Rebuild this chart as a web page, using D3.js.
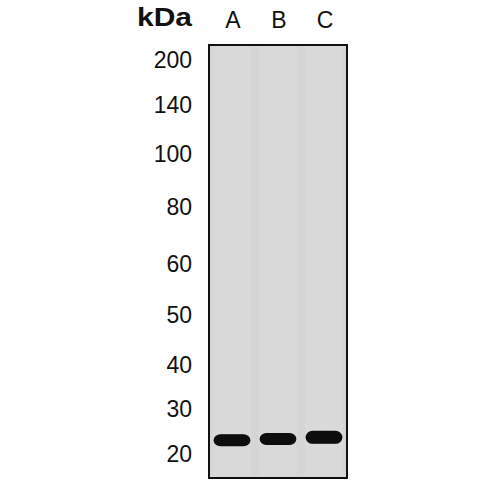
<!DOCTYPE html>
<html>
<head>
<meta charset="utf-8">
<script src="https://cdn.jsdelivr.net/npm/d3@7"></script>
<style>
  body { margin: 0; background: #fff; }
  svg { display: block; font-family: "Liberation Sans", Arial, sans-serif; }
</style>
</head>
<body>
<svg id="vis" width="500" height="500"></svg>
<script>
// marker ladder (kDa) and relative migration down the membrane (0 = top, 1 = bottom)
const markerLabels = ['200', '140', '100', '80', '60', '50', '40', '30', '20']
const markerMobility = [0.035, 0.137, 0.250, 0.374, 0.504, 0.624, 0.739, 0.840, 0.944]

// lanes and the single band found in each
const lanes = ['A', 'B', 'C']
const bandMobility = [0.913, 0.910, 0.906]
const bandThickness = [1.0, 1.0, 1.08]

const margin = {left: 209, top: 45, right: 153, bottom: 22}
const width = 500 - margin.left - margin.right
const height = 500 - margin.top - margin.bottom

const svg = d3.select('#vis')

const yScale = d3.scaleLinear().domain([0, 1]).range([margin.top, margin.top + height])
const xLane = d3.scalePoint().domain(lanes).range([margin.left, margin.left + width]).padding(0.5)
const bandW = xLane.step() * 0.8
const bandH = 12

// soft edge on the bands
const defs = svg.append('defs')
defs.append('filter').attr('id', 'blur')
    .attr('x', '-20%').attr('y', '-60%').attr('width', '140%').attr('height', '220%')
    .append('feGaussianBlur').attr('stdDeviation', 0.7)

// membrane background
svg.append('rect')
    .attr('class', 'membrane')
    .attr('x', margin.left).attr('y', margin.top)
    .attr('width', width).attr('height', height)
    .attr('fill', '#d5d5d5')

// faint lane streaks
svg.selectAll('.streak')
    .data(lanes)
    .enter().append('rect')
    .attr('class', 'streak')
    .attr('x', d => xLane(d) - xLane.step() / 2 + 4)
    .attr('y', margin.top)
    .attr('width', xLane.step() - 8)
    .attr('height', height)
    .attr('fill', '#d9d9d9')

// bands
svg.selectAll('.band')
    .data(lanes)
    .enter().append('rect')
    .attr('class', 'band')
    .attr('x', d => xLane(d) - bandW / 2)
    .attr('y', (d, i) => yScale(bandMobility[i]) - bandH * bandThickness[i] / 2)
    .attr('width', bandW)
    .attr('height', (d, i) => bandH * bandThickness[i])
    .attr('rx', 7).attr('ry', (d, i) => bandH * bandThickness[i] / 2)
    .attr('fill', '#080808')
    .attr('filter', 'url(#blur)')

// frame
svg.append('rect')
    .attr('x', margin.left).attr('y', margin.top)
    .attr('width', width).attr('height', height)
    .attr('fill', 'none')
    .attr('stroke', '#111')
    .attr('stroke-width', 2)

// marker labels
svg.selectAll('.marker')
    .data(markerLabels)
    .enter().append('text')
    .attr('class', 'marker')
    .attr('x', margin.left - 17)
    .attr('y', (d, i) => yScale(markerMobility[i]))
    .attr('dy', '0.36em')
    .attr('text-anchor', 'end')
    .attr('font-size', 23)
    .attr('fill', '#111')
    .text(d => d)

// lane labels
svg.selectAll('.lane')
    .data(lanes)
    .enter().append('text')
    .attr('class', 'lane')
    .attr('x', d => xLane(d) + 1)
    .attr('y', 28)
    .attr('text-anchor', 'middle')
    .attr('font-size', 23)
    .attr('fill', '#111')
    .text(d => d)

svg.append('text')
    .attr('x', 137).attr('y', 26)
    .attr('font-size', 25)
    .attr('font-weight', 'bold')
    .attr('textLength', 55)
    .attr('lengthAdjust', 'spacingAndGlyphs')
    .attr('fill', '#111')
    .text('kDa')
</script>
</body>
</html>
